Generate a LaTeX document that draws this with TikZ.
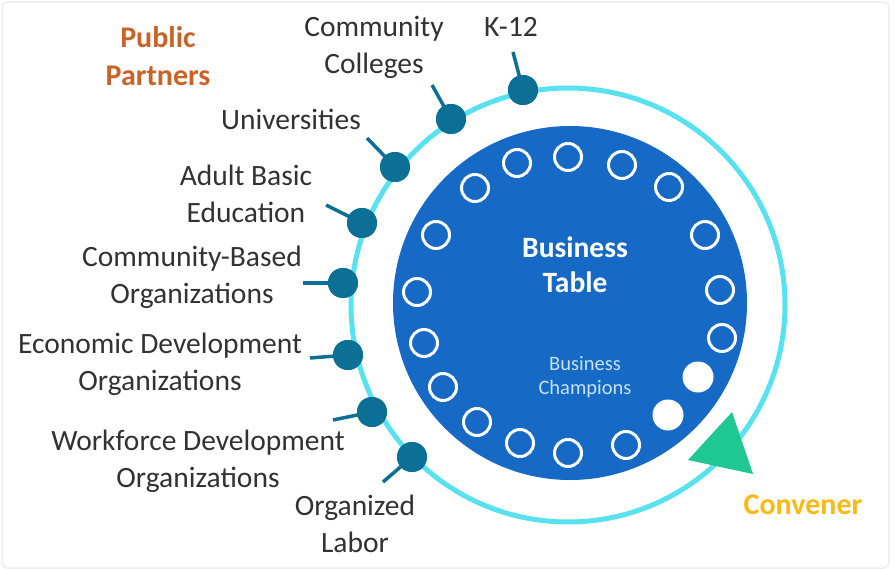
\documentclass[tikz,border=0pt]{standalone}
\usepackage{fontspec}
\setmainfont{Carlito}
\definecolor{tableblue}{RGB}{22,106,198}
\definecolor{ringcyan}{RGB}{88,226,240}
\definecolor{dotblue}{RGB}{12,112,150}
\definecolor{convgreen}{RGB}{32,200,145}
\definecolor{pporange}{RGB}{200,100,40}
\definecolor{convyellow}{RGB}{248,186,20}
\definecolor{labelgray}{RGB}{50,50,50}
\definecolor{champtext}{RGB}{200,225,245}
\tikzset{
  lbl/.style={font=\fontsize{29.5}{37}\selectfont, text=labelgray, align=center, inner sep=0pt},
  hdr/.style={font=\bfseries\fontsize{30}{38}\selectfont, align=center, inner sep=0pt},
  partner/.style={circle, fill=dotblue, minimum size=30pt, inner sep=0pt},
  stick/.style={draw=dotblue, line width=3.5pt},
  seat/.style={circle, draw=white, line width=3pt, minimum size=27pt, inner sep=0pt},
  seatfull/.style={circle, fill=white, minimum size=31pt, inner sep=0pt},
}
\begin{document}
\begin{tikzpicture}[x=1pt, y=-1pt]
\useasboundingbox (0,0) rectangle (896,569);
\fill[white] (0,0) rectangle (896,569);
\draw[black!7, line width=1.5pt, rounded corners=6pt] (2,2) rectangle (889,568);
% ring and table
\coordinate (ringc) at (568,305);
\coordinate (tablec) at (570,303);
\draw[ringcyan, line width=5pt] (ringc) circle[radius=217pt];
\fill[tableblue] (tablec) circle[radius=177pt];
% seats
\foreach \p [count=\i] in {(475,188),(517,163),(568,157),(622,165),(669,187),(705,235),(720,290),(722,338),(626,445),(568,453),(520,443),(477,422),(443,387),(424,343),(417,292),(436,235)}
  \node[seat] (seat\i) at \p {};
\node[seatfull] (champ1) at (698,377) {};
\node[seatfull] (champ2) at (668,415) {};
% partner dots and sticks
\node[partner] (k12dot) at (523,90) {};
\node[partner] (ccdot) at (451,119) {};
\node[partner] (unidot) at (395,167) {};
\node[partner] (abedot) at (362,223) {};
\node[partner] (cbodot) at (343,283) {};
\node[partner] (edodot) at (348,355) {};
\node[partner] (wdodot) at (372,412) {};
\node[partner] (oldot) at (412,457) {};
\coordinate (k12end) at (513,52);
\coordinate (ccend) at (432,85);
\coordinate (uniend) at (367,138);
\coordinate (abeend) at (326,205);
\coordinate (cboend) at (303,283);
\coordinate (edoend) at (310,358);
\coordinate (wdoend) at (333,420);
\coordinate (olend) at (383,482);
\foreach \n in {k12,cc,uni,abe,cbo,edo,wdo,ol}
  \draw[stick] (\n end) -- (\n dot.center);
\foreach \n in {k12,cc,uni,abe,cbo,edo,wdo,ol}
  \fill[dotblue] (\n dot) circle[radius=15pt];
% convener triangle
\coordinate (triA) at (732,412);
\coordinate (triB) at (688,460);
\coordinate (triC) at (753,474);
\fill[convgreen] (triA) -- (triB) -- (triC) -- cycle;
% texts
\node[hdr, text=pporange] (pp) at (158,56) {Public\\Partners};
\node[lbl] (cc) at (374,47) {Community\\Colleges};
\node[lbl] (k12) at (511,27) {K-12};
\node[lbl] (uni) at (291,119) {Universities};
\node[lbl] (abe) at (246,194) {Adult Basic\\Education};
\node[lbl] (cbo) at (192,277) {Community-Based\\Organizations};
\node[lbl] (edo) at (160,364) {Economic Development\\Organizations};
\node[lbl] (wdo) at (198,461) {Workforce Development\\Organizations};
\node[lbl] (ol) at (355,524) {Organized\\Labor};
\node[hdr, text=convyellow] (conv) at (803,505) {Convener};
\node[font=\bfseries\fontsize{29.5}{35}\selectfont, text=white, align=center, inner sep=0pt] (bt) at (575,265) {Business\\Table};
\node[font=\fontsize{20.5}{23.5}\selectfont, text=champtext, align=center, inner sep=0pt] (bc) at (585,377) {Business\\Champions};
\end{tikzpicture}
\end{document}
